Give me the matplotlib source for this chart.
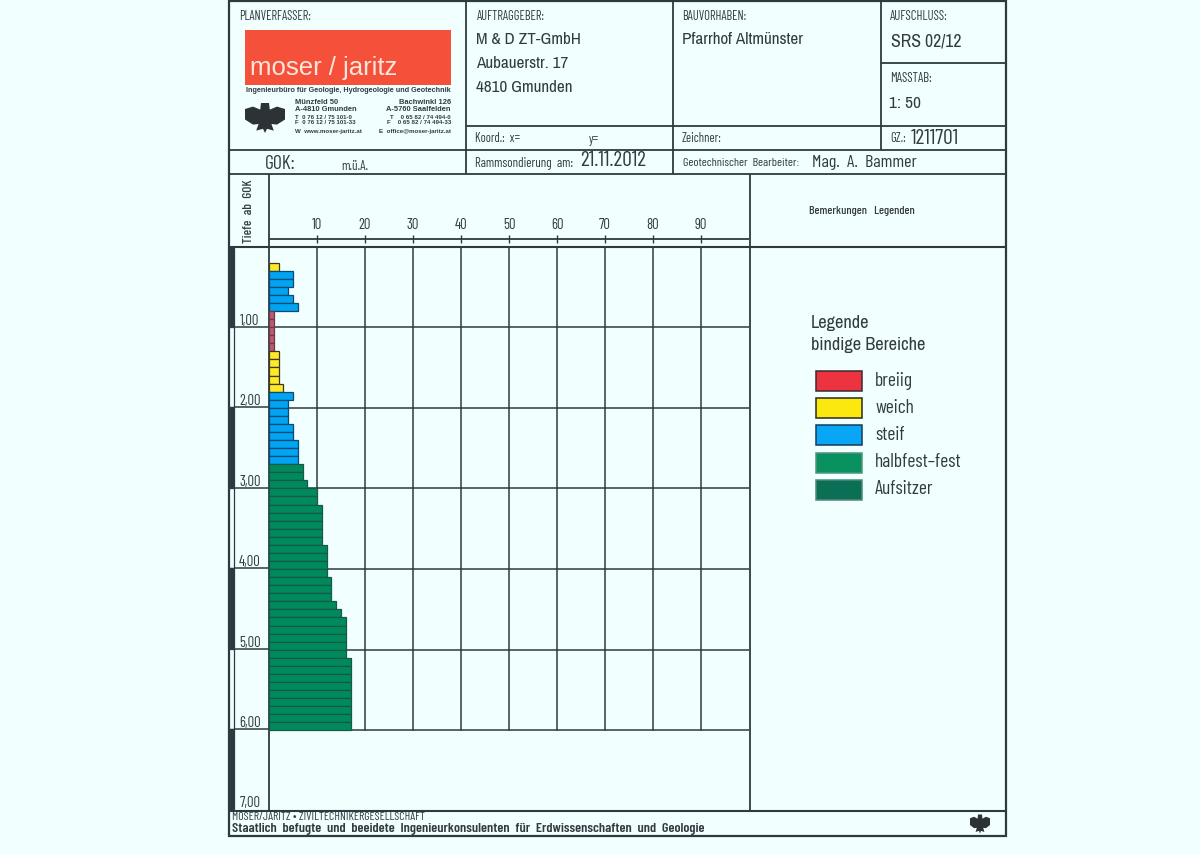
import matplotlib
matplotlib.use("Agg")
import matplotlib.pyplot as plt
from matplotlib.patches import Rectangle, Polygon

W, H = 1200, 855
BG = "#f1fffe"
INK = "#2f3a40"

# bar values, one per 0.1 m from 0.2 m down to 6.0 m
depth_top = [round(0.2 + i * 0.1, 1) for i in range(58)]
blows = [2,
         5, 5, 4, 5, 6,
         1, 1, 1, 1, 1,
         2, 2, 2, 2, 3,
         5, 4, 4, 4, 5, 5, 6, 6, 6,
         7, 7, 8, 10, 10, 11, 11, 11, 11, 11,
         12, 12, 12, 12, 13, 13, 13, 14, 15,
         16, 16, 16, 16, 16,
         17, 17, 17, 17, 17, 17, 17, 17, 17]
classes = ["weich"] + ["steif"] * 5 + ["breiig"] * 5 + ["weich"] * 5 + ["steif"] * 9 + ["halbfest-fest"] * 33

legend_names = ["breiig", "weich", "steif", "halbfest\u2013fest", "Aufsitzer"]
legend_keys = ["breiig", "weich", "steif", "halbfest-fest", "Aufsitzer"]
class_colors = {"breiig": "#ee3340", "weich": "#fbe80f", "steif": "#09a6f5",
                "halbfest-fest": "#0a9160", "Aufsitzer": "#0b6f55"}
legend_edges = {"breiig": "#3a2a30", "weich": "#2b2a1a", "steif": "#123c5c",
                "halbfest-fest": "#4f9580", "Aufsitzer": "#4f8a7c"}
bar_colors = {"breiig": "#bd5a70", "weich": "#ffe927", "steif": "#00a4f2",
              "halbfest-fest": "#008a5c"}
bar_edges = {"breiig": "#6b3a4a", "weich": "#3a3a20", "steif": "#0d4a70",
             "halbfest-fest": "#14594c"}

x_ticks = [10, 20, 30, 40, 50, 60, 70, 80, 90]
depth_ticks = [1, 2, 3, 4, 5, 6, 7]
depth_labels = ["1,00", "2,00", "3,00", "4,00", "5,00", "6,00", "7,00"]

NARROW = ["Archivo Narrow", "DejaVu Sans"]
CAD = ["Barlow Condensed", "DejaVu Sans"]
PLAIN = ["Liberation Sans", "DejaVu Sans"]
plt.rcParams["font.family"] = NARROW


def px_line(x0, y0, x1, y1, lw=1.3, color=INK):
    sheet.plot([x0, x1], [y0, y1], color=color, lw=lw, solid_capstyle="butt")


def px_text(x, y, s, size=10, **kw):
    kw.setdefault("color", "#333b40")
    kw.setdefault("va", "center")
    kw.setdefault("ha", "left")
    sheet.text(x, y, s, fontsize=size, **kw)


def eagle(cx, cy, w, h):
    # rough silhouette of the federal eagle used in the logo
    outline = [(-0.1, -0.5), (0.1, -0.5), (0.12, -0.28), (0.3, -0.38), (0.5, -0.3),
               (0.5, 0.05), (0.3, 0.22), (0.16, 0.2), (0.22, 0.42), (0.05, 0.36),
               (0, 0.5), (-0.05, 0.36), (-0.22, 0.42), (-0.16, 0.2), (-0.3, 0.22),
               (-0.5, 0.05), (-0.5, -0.3), (-0.3, -0.38), (-0.12, -0.28)]
    pts = [(cx + a * w, cy + b * h) for a, b in outline]
    sheet.add_patch(Polygon(pts, closed=True, fc="#2c3235", ec="none"))


fig = plt.figure(figsize=(W / 100, H / 100), dpi=100, facecolor=BG)

# sheet axes in pixel coordinates for the title block and frame
sheet = fig.add_axes([0, 0, 1, 1])
sheet.set_xlim(0, W)
sheet.set_ylim(H, 0)
sheet.axis("off")

# outer frame and title block lines
sheet.add_patch(Rectangle((228.5, 1), 777.5, 835, fill=False, ec=INK, lw=1.6))
px_line(466, 1, 466, 174)
px_line(673, 1, 673, 174)
px_line(881, 1, 881, 150)
px_line(881, 63, 1006, 63)
px_line(466, 126, 1006, 126)
px_line(228, 150, 1006, 150)
px_line(228, 174, 1006, 174)
px_line(228, 247, 1006, 247, lw=1.5)
px_line(228, 811, 1006, 811, lw=1.5)
px_line(269, 174, 269, 811)
px_line(749.5, 174, 749.5, 811)

# logo block
px_text(239, 17, "PLANVERFASSER:", 9, family=CAD)
sheet.add_patch(Rectangle((245, 30), 206, 55, fc="#f4503a", ec="none"))
px_text(250, 68, "moser / jaritz", 18.5, color="#fbe6dc", family=PLAIN)
px_text(246, 90, "Ingenieurbüro für Geologie, Hydrogeologie und Geotechnik", 5.2,
        family=PLAIN, weight="bold")
px_text(295, 106, "Münzfeld 50\nA-4810 Gmunden", 5.4, family=PLAIN,
        weight="bold", linespacing=0.95)
px_text(295, 120, "T  0 76 12 / 75 101-0\nF  0 76 12 / 75 101-33", 4.4,
        family=PLAIN, weight="bold", linespacing=1.05)
px_text(295, 132, "W  www.moser-jaritz.at", 4.4, family=PLAIN, weight="bold")
px_text(451, 106, "Bachwinkl 126\nA-5760 Saalfelden", 5.4, family=PLAIN,
        weight="bold", ha="right", multialignment="right", linespacing=0.95)
px_text(451, 120, "T    0 65 82 / 74 494-0\nF    0 65 82 / 74 494-33", 4.4,
        family=PLAIN, weight="bold", ha="right", multialignment="right",
        linespacing=1.05)
px_text(451, 132, "E  office@moser-jaritz.at", 4.4, family=PLAIN,
        weight="bold", ha="right")
eagle(265, 118, 40, 30)

px_text(265, 164, "GOK:", 14, family=CAD)
px_text(341, 166, "m.ü.A.", 9.5, family=CAD)

# header fields
px_text(477, 17, "AUFTRAGGEBER:", 9, family=CAD)
px_text(476, 40, "M & D ZT-GmbH", 12.3)
px_text(476, 64, "Aubauerstr. 17", 12.3)
px_text(476, 87, "4810 Gmunden", 12.3)
px_text(682, 17, "BAUVORHABEN:", 9, family=CAD)
px_text(682, 40, "Pfarrhof Altmünster", 12.3)
px_text(890, 17, "AUFSCHLUSS:", 9.2, family=CAD)
px_text(891, 41, "SRS 02/12", 12.8)
px_text(890, 79, "MASSTAB:", 9.3, family=CAD)
px_text(889, 103, "1: 50", 12.5)
px_text(475, 139, "Koord.:  x=", 9, family=CAD)
px_text(589, 139, "y=", 9, family=CAD)
px_text(682, 139, "Zeichner:", 9, family=CAD)
px_text(890, 139, "GZ.:", 9, family=CAD)
px_text(911, 139, "1211701", 15.5, family=CAD)
px_text(475, 163, "Rammsondierung  am:", 9.3, family=CAD)
px_text(580, 161, "21.11.2012", 15.5, family=CAD)
px_text(683, 163, "Geotechnischer  Bearbeiter:", 8.8, family=CAD)
px_text(812, 162, "Mag.  A.  Bammer", 13, family=CAD)

px_text(249, 211, "Tiefe  ab  GOK", 9.5, rotation=90, ha="center", family=CAD, weight="medium")
px_text(809, 211, "Bemerkungen   Legenden", 8.7, family=CAD, weight="medium")

# left depth scale, dark and open every other metre
for d in range(7):
    y0 = 246.5 + d * 80.4
    sheet.add_patch(Rectangle((229, y0), 5, 80.4, fc=INK if d % 2 == 0 else BG,
                              ec=INK, lw=0.9))

# main plot area, x 0..100 over 269..749 px, depth 0..7 over 246.5..811 px
ax = fig.add_axes([269 / W, 1 - 811 / H, 480 / W, (811 - 246.5) / H])
ax.patch.set_alpha(0)
ax.set_xlim(0, 100)
ax.set_ylim(7, 0)
for s in ax.spines.values():
    s.set_visible(False)
ax.tick_params(left=False, bottom=False, labelleft=False, labelbottom=False)
for v in x_ticks:
    ax.plot([v, v], [0, 6], color=INK, lw=1.1, clip_on=False, zorder=1)
for d in depth_ticks[:-1]:
    ax.plot([0, 100], [d, d], color=INK, lw=1.1, zorder=1)

ax.barh(depth_top, blows, height=0.1, align="edge",
        color=[bar_colors[c] for c in classes],
        edgecolor=[bar_edges[c] for c in classes], linewidth=0.9, zorder=3)

# depth labels and their leader lines
for d, lab in zip(depth_ticks, depth_labels):
    y = 246.5 + d * 80.4
    if d < 7:
        px_line(234, y, 269, y, lw=1.1)
    px_text(250, y - 6, lab, 10.5, ha="center", family=CAD)

# top scale
px_line(269, 239, 749, 239, lw=1.3)
for v in x_ticks:
    x = 269 + v * 4.8
    px_line(x, 235, x, 243, lw=1)
    px_text(x, 225, str(v), 10.5, ha="center", family=CAD)

# legend
px_text(811, 323, "Legende", 13.2)
px_text(811, 345, "bindige Bereiche", 13.2)
for i, (key, name) in enumerate(zip(legend_keys, legend_names)):
    y = 371 + i * 27.2
    sheet.add_patch(Rectangle((816, y), 46, 20, fc=class_colors[key],
                              ec=legend_edges[key], lw=1.1))
    px_text(875, y + 9.5, name, 14, family=CAD)

# footer
px_text(232, 817, "MOSER/JARITZ \u2022 ZIVILTECHNIKERGESELLSCHAFT", 8.6, family=CAD)
px_text(232, 829, "Staatlich  befugte  und  beeidete  Ingenieurkonsulenten  für  Erdwissenschaften  und  Geologie",
        10.2, family=CAD, weight="semibold")
eagle(980, 824, 20, 19)

fig.savefig("out.png", dpi=100, facecolor=BG)
